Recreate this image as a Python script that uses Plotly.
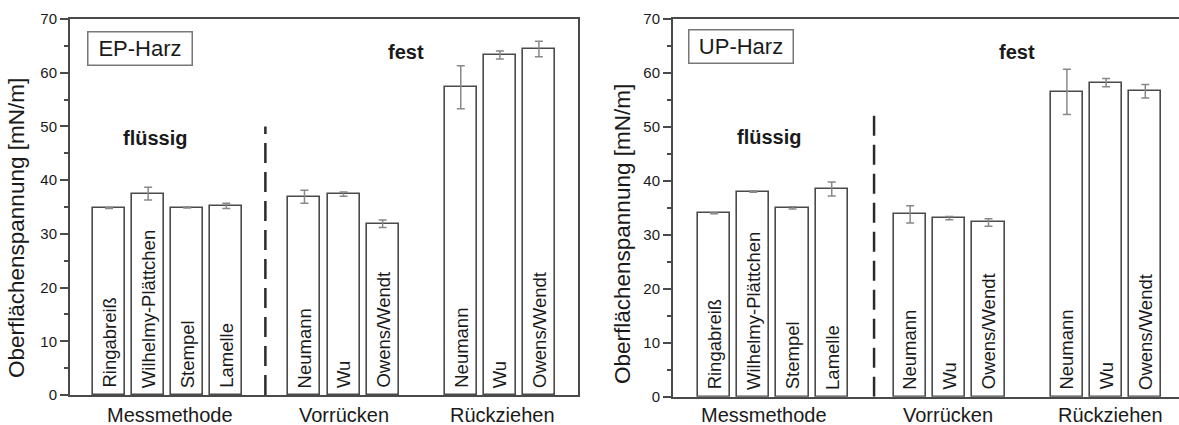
import plotly.graph_objects as go

# ---- data ----
methods = ["Ringabreiß", "Wilhelmy-Plättchen", "Stempel", "Lamelle",
           "Neumann", "Wu", "Owens/Wendt", "Neumann", "Wu", "Owens/Wendt"]
x_slots = [1, 2, 3, 4, 6, 7, 8, 10, 11, 12]

ep_values = [34.8, 37.5, 34.9, 35.2, 36.9, 37.4, 31.9, 57.3, 63.3, 64.4]
ep_errors = [0.1, 1.2, 0.1, 0.5, 1.2, 0.4, 0.7, 4.0, 0.75, 1.45]

up_values = [34.0, 38.0, 35.0, 38.5, 33.8, 33.1, 32.3, 56.5, 58.2, 56.6]
up_errors = [0.1, 0.1, 0.2, 1.3, 1.6, 0.3, 0.7, 4.2, 0.75, 1.25]

group_labels = ["Messmethode", "Vorrücken", "Rückziehen"]
y_ticks = [0, 10, 20, 30, 40, 50, 60, 70]
y_title = "Oberflächenspannung [mN/m]"
panel_titles = ["EP-Harz", "UP-Harz"]
phase_labels = ["flüssig", "fest"]

# ---- style / layout constants ----
W, H = 1179, 425
FONT = "Liberation Sans, Arial, sans-serif"
TXT = "#1a1a1a"
AX = "#4a4a4a"

fig = go.Figure()

panels = [
    dict(vals=ep_values, errs=ep_errors, xa="x", ya="y",
         dash_x=5.0, dash_top=50, box=(1.80, 64.6), fl=(2.17, 47.9), fe=(8.6, 63.8),
         groups=[2.56, 7.0, 11.08], title=panel_titles[0], ytitle_x=16, ytitle_y=228),
    dict(vals=up_values, errs=up_errors, xa="x2", ya="y2",
         dash_x=5.08, dash_top=53, box=(1.685, 64.9), fl=(2.39, 48.2), fe=(8.72, 63.8),
         groups=[2.28, 6.97, 11.1], title=panel_titles[1], ytitle_x=623, ytitle_y=234),
]

annotations = []
for p in panels:
    fig.add_trace(go.Bar(
        x=x_slots, y=p["vals"], width=0.82, xaxis=p["xa"], yaxis=p["ya"],
        marker=dict(color="white", line=dict(color=AX, width=1.6)),
        error_y=dict(type="data", array=p["errs"], visible=True,
                     color="#888888", thickness=1.5, width=4),
        showlegend=False, hoverinfo="x+y",
    ))
    fig.add_trace(go.Scatter(
        x=[p["dash_x"], p["dash_x"]], y=[0, p["dash_top"]], mode="lines",
        xaxis=p["xa"], yaxis=p["ya"],
        line=dict(color="#2a2a2a", width=2.5, dash="20px,9px"),
        showlegend=False, hoverinfo="skip",
    ))
    # rotated bar labels
    for xs, lab in zip(x_slots, methods):
        annotations.append(dict(
            x=xs, y=0, xref=p["xa"], yref=p["ya"], text=lab, textangle=-90,
            showarrow=False, xanchor="center", yanchor="bottom", yshift=5,
            font=dict(family=FONT, size=18.5, color=TXT)))
    # group labels below axis
    for gx, g in zip(p["groups"], group_labels):
        annotations.append(dict(
            x=gx, y=1 - 415 / H, xref=p["xa"], yref="paper", text=g,
            showarrow=False, xanchor="center", yanchor="middle",
            font=dict(family=FONT, size=20, color=TXT)))
    # boxed panel title
    annotations.append(dict(
        x=p["box"][0], y=p["box"][1], xref=p["xa"], yref=p["ya"], text=p["title"],
        showarrow=False, xanchor="center", yanchor="middle",
        width=101, height=30, borderpad=1, bordercolor="#777777", borderwidth=1.5,
        bgcolor="white", font=dict(family=FONT, size=22, color=TXT)))
    # phase labels
    annotations.append(dict(
        x=p["fl"][0], y=p["fl"][1], xref=p["xa"], yref=p["ya"],
        text="<b>%s</b>" % phase_labels[0], showarrow=False,
        font=dict(family=FONT, size=20, color=TXT)))
    annotations.append(dict(
        x=p["fe"][0], y=p["fe"][1], xref=p["xa"], yref=p["ya"],
        text="<b>%s</b>" % phase_labels[1], showarrow=False,
        font=dict(family=FONT, size=20, color=TXT)))
    # y axis title
    annotations.append(dict(
        x=p["ytitle_x"] / W, y=1 - p["ytitle_y"] / H, xref="paper", yref="paper",
        text=y_title, textangle=-90, showarrow=False,
        xanchor="center", yanchor="middle",
        font=dict(family=FONT, size=22.5, color=TXT)))

xcommon = dict(showline=True, linecolor=AX, linewidth=2, mirror=True,
               showticklabels=False, ticks="", showgrid=False, zeroline=False)
ycommon = dict(showline=True, linecolor=AX, linewidth=2, range=[0, 70],
               tickvals=y_ticks, ticks="outside", ticklen=8, tickwidth=1.5,
               tickcolor=AX, showgrid=False, zeroline=False,
               tickfont=dict(family=FONT, size=15, color=TXT),
               minor=dict(dtick=5, ticks="outside", ticklen=4, tickwidth=1.5,
                          tickcolor=AX, showgrid=False))

fig.update_layout(
    width=W, height=H,
    margin=dict(l=0, r=0, t=0, b=0, pad=0, autoexpand=False),
    paper_bgcolor="white", plot_bgcolor="white", bargap=0, showlegend=False,
    xaxis=dict(domain=[70 / W, 578 / W], range=[0, 13], anchor="y", **xcommon),
    yaxis=dict(domain=[(H - 395) / H, (H - 19) / H], anchor="x", mirror=True, **ycommon),
    xaxis2=dict(domain=[673 / W, 1.0], range=[-0.05, 12.86], anchor="y2", **xcommon),
    yaxis2=dict(domain=[(H - 396.7) / H, (H - 19) / H], anchor="x2", mirror=False, **ycommon),
    annotations=annotations,
)

fig.write_html("out.html",
               config={"displayModeBar": False},
               post_script="document.body.style.margin='0';"
                           "document.body.style.overflow='hidden';")
